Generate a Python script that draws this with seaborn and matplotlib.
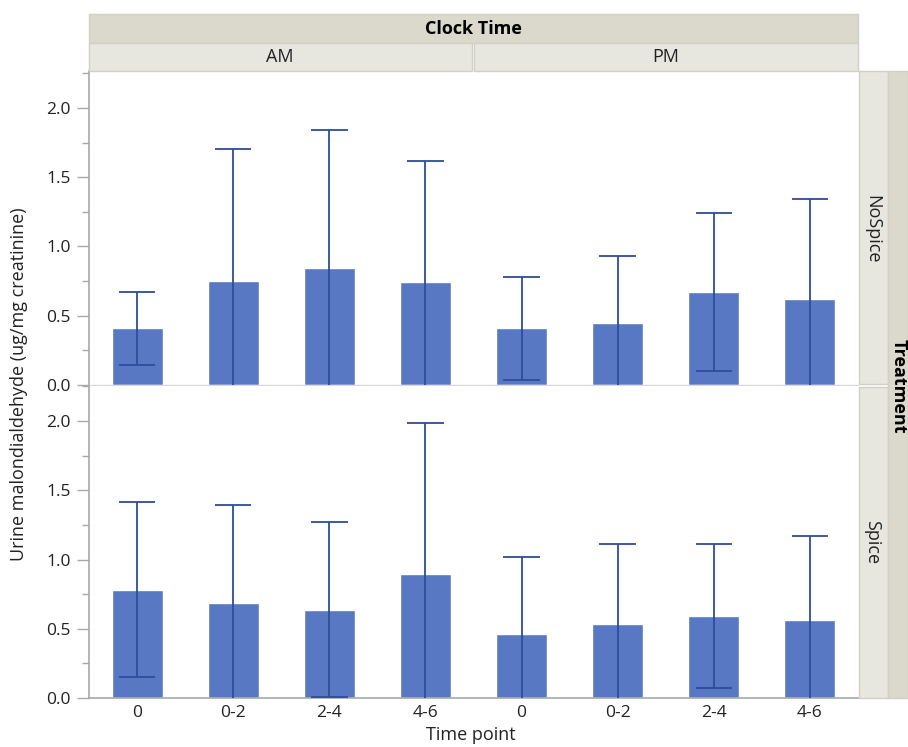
import matplotlib
matplotlib.use('Agg')

import matplotlib.pyplot as plt
from matplotlib.patches import Rectangle
from matplotlib.ticker import MultipleLocator
import seaborn as sns
import pandas as pd

sns.set_style('white')
plt.rcParams['font.family'] = ['Open Sans', 'DejaVu Sans']

# values
time_points = ['0', '0-2', '2-4', '4-6']
clock_times = ['AM', 'PM']
treatments = ['NoSpice', 'Spice']
nospice_mean = [0.41, 0.75, 0.845, 0.745, 0.41, 0.448, 0.671, 0.621]
nospice_upper = [0.674, 1.704, 1.843, 1.62, 0.782, 0.931, 1.244, 1.345]
spice_mean = [0.782, 0.688, 0.638, 0.897, 0.464, 0.536, 0.594, 0.565]
spice_upper = [1.412, 1.391, 1.268, 1.983, 1.02, 1.114, 1.114, 1.172]

slots = [f'{c} {t}' for c in clock_times for t in time_points]
rows = []
for trt, means, uppers in [('NoSpice', nospice_mean, nospice_upper),
                           ('Spice', spice_mean, spice_upper)]:
    for s, m, u in zip(slots, means, uppers):
        rows.append({'Treatment': trt, 'slot': s, 'mean': m, 'upper': u})
df = pd.DataFrame(rows)
df['lower'] = df['mean'] - (df['upper'] - df['mean'])  # symmetric bars

bar_color = '#5878C4'
err_color = '#2D4C9A'
spine_color = '#A8A8A8'
text_color = '#222222'
fs = 13

W, H = 908, 747
fig = plt.figure(figsize=(W / 100, H / 100), dpi=100)


def fx(px):
    return px / W


def fy(py):
    return 1 - py / H


left, right = 89, 858
ax_top = fig.add_axes([fx(left), fy(385), fx(right - left), (385 - 71) / H])
ax_bot = fig.add_axes([fx(left), fy(698), fx(right - left), (698 - 386) / H])

for ax, trt, ymax in [(ax_top, 'NoSpice', 2.267), (ax_bot, 'Spice', 2.253)]:
    sub = df[df['Treatment'] == trt]
    sns.barplot(data=sub, x='slot', y='mean', order=slots, color=bar_color,
                saturation=1, width=0.53, errorbar=None, ax=ax)
    xs = range(len(slots))
    lows = sub['lower'].clip(lower=0).values
    ax.vlines(xs, lows, sub['upper'].values, color=err_color, lw=1.3, zorder=3)
    ax.hlines(sub['upper'].values, [x - 0.19 for x in xs], [x + 0.19 for x in xs],
              color=err_color, lw=1.3, zorder=3)
    for x, lo in zip(xs, sub['lower'].values):
        if lo >= 0:
            ax.hlines(lo, x - 0.19, x + 0.19, color=err_color, lw=1.3, zorder=3)
    ax.set_xlim(-0.5, len(slots) - 0.5)
    ax.set_ylim(0, ymax)
    ax.yaxis.set_minor_locator(MultipleLocator(0.25))
    ax.set_yticks([0, 0.5, 1.0, 1.5, 2.0])
    ax.set_yticklabels(['0.0', '0.5', '1.0', '1.5', '2.0'])
    ax.tick_params(axis='y', which='major', length=9, width=1, color=spine_color,
                   labelsize=12.5, labelcolor=text_color, pad=4, left=True)
    ax.tick_params(axis='y', which='minor', length=5, width=1, color=spine_color, left=True)
    ax.set_xlabel('')
    ax.set_ylabel('')
    for side in ['top', 'right']:
        ax.spines[side].set_visible(False)
    ax.spines['left'].set_color(spine_color)
    ax.spines['left'].set_linewidth(1.2)

ax_top.spines['bottom'].set_color('#D8D8D8')
ax_top.spines['bottom'].set_linewidth(1)
ax_top.set_xticks([])
ax_bot.spines['bottom'].set_color(spine_color)
ax_bot.spines['bottom'].set_linewidth(1.2)
ax_bot.set_xticks(range(len(slots)))
ax_bot.set_xticklabels(time_points * 2)
ax_bot.tick_params(axis='x', length=0, labelsize=12.5, labelcolor=text_color, pad=5)

dark_band = '#DBD9CB'
light_band = '#E7E7DF'
edge = '#D2D0C4'


def band(x0, y0, x1, y1, color):
    fig.add_artist(Rectangle((fx(x0), fy(y1)), fx(x1 - x0), (y1 - y0) / H,
                             transform=fig.transFigure, facecolor=color,
                             edgecolor=edge, lw=1))


band(89, 14, 858, 43, dark_band)
band(89, 43, 472, 71, light_band)
band(474, 43, 858, 71, light_band)
band(859, 71, 888, 384, light_band)
band(859, 387, 888, 698, light_band)
band(888, 71, 908, 698, dark_band)

fig.text(fx(473.5), fy(29), 'Clock Time', ha='center', va='center',
         fontsize=fs, fontweight='bold', color='black')
fig.text(fx(280), fy(57.5), 'AM', ha='center', va='center', fontsize=fs, color=text_color)
fig.text(fx(666), fy(57.5), 'PM', ha='center', va='center', fontsize=fs, color=text_color)
fig.text(fx(872), fy(229), 'NoSpice', ha='center', va='center', rotation=-90,
         fontsize=fs, color=text_color)
fig.text(fx(872), fy(542), 'Spice', ha='center', va='center', rotation=-90,
         fontsize=fs, color=text_color)
fig.text(fx(898.5), fy(386), 'Treatment', ha='center', va='center', rotation=-90,
         fontsize=fs, fontweight='bold', color='black')
fig.text(fx(471), fy(735), 'Time point', ha='center', va='center',
         fontsize=fs, color=text_color)
fig.text(fx(19), fy(384), 'Urine malondialdehyde (ug/mg creatinine)', ha='center',
         va='center', rotation=90, fontsize=fs, color=text_color)

fig.savefig('out.png', dpi=100)
